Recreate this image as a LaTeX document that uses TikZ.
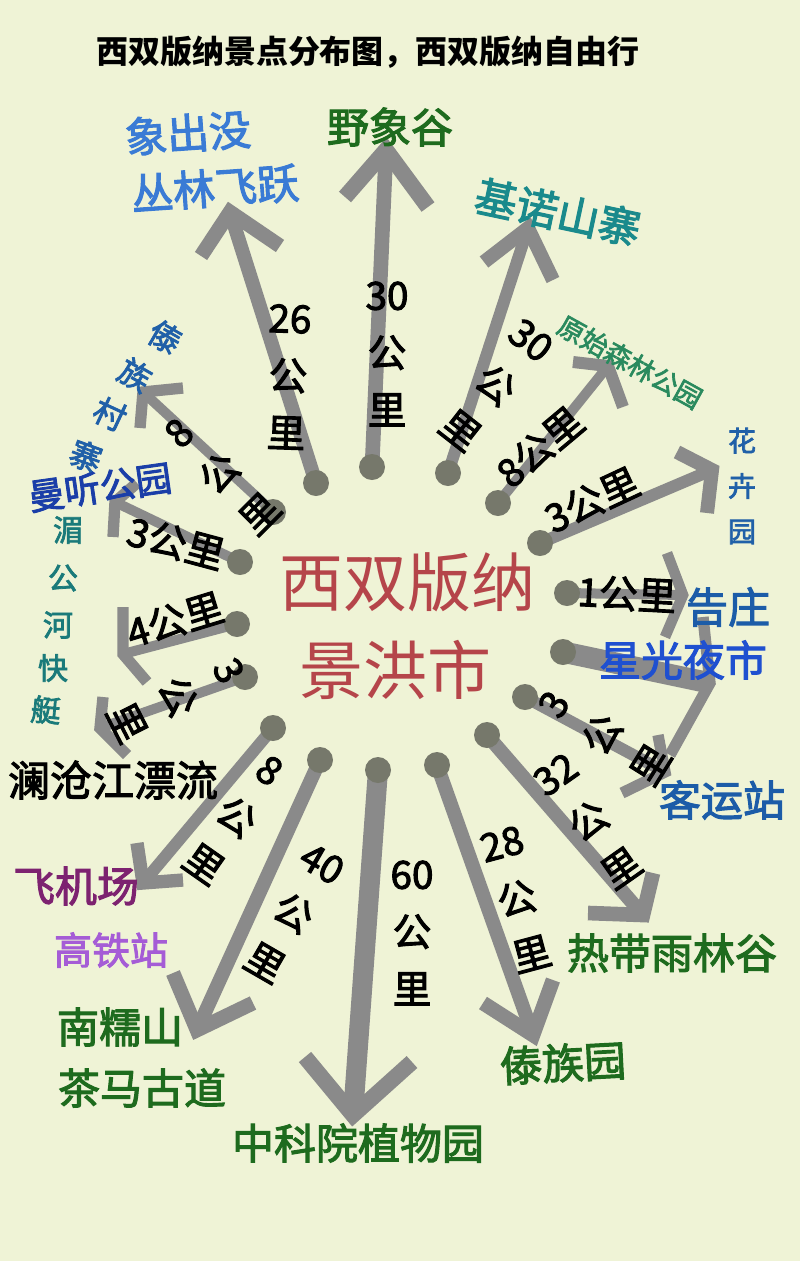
\documentclass[tikz,border=0pt]{standalone}
\usepackage{fontspec}
\newfontfamily\cjk{Noto Sans CJK SC}
\newfontfamily\cjkm{Noto Sans CJK SC}[RawFeature={embolden=2.5}]
\definecolor{bgc}{HTML}{EFF3D6}
\definecolor{ag}{HTML}{8A8A8A}
\definecolor{dotc}{HTML}{76786B}
\definecolor{cblue}{HTML}{3A7BD5}
\definecolor{cgreen}{HTML}{1E6B1E}
\definecolor{cteal}{HTML}{1A8A8C}
\definecolor{cforest}{HTML}{2A8A5E}
\definecolor{cblueb}{HTML}{2060A8}
\definecolor{cbluec}{HTML}{1C5CA8}
\definecolor{cblued}{HTML}{1F50D0}
\definecolor{cpurple}{HTML}{A55CD6}
\definecolor{cplum}{HTML}{7D2270}
\definecolor{cteal2}{HTML}{1A7A7A}
\definecolor{cnavy}{HTML}{1A3EA8}
\definecolor{cred}{HTML}{B5454A}
\begin{document}
\begin{tikzpicture}[x=0.75pt,y=-0.75pt,
  shaft/.style={draw=ag, line width=#1},
  chev/.style={draw=ag, line width=#1, line join=miter, miter limit=10},
  dot/.style={circle, fill=dotc, minimum size=19.5pt, inner sep=0pt},
  place/.style={font=\cjkm\fontsize{31.5}{36}\selectfont, inner sep=0pt},
  dist/.style={font=\cjkm\fontsize{29}{43}\selectfont, align=center, inner sep=0pt, text=black}]
\useasboundingbox (0,0) rectangle (800,1261);
\fill[bgc] (0,0) rectangle (800,1261);

% coordinates: dots, tips, arms
\coordinate (dA) at (316,483); \coordinate (tA) at (230,212); \coordinate (aA1) at (201,256); \coordinate (aA2) at (280,246);
\coordinate (dB) at (372,467); \coordinate (tB) at (386,150); \coordinate (aB1) at (345,197); \coordinate (aB2) at (428,207);
\coordinate (dC) at (448,473); \coordinate (tC) at (528,228); \coordinate (aC1) at (484,262); \coordinate (aC2) at (553,280);
\coordinate (dD) at (498,503); \coordinate (tD) at (608,366); \coordinate (aD1) at (573,362); \coordinate (aD2) at (623,407);
\coordinate (dE) at (540,543); \coordinate (tE) at (712,470); \coordinate (aE1) at (677,452); \coordinate (aE2) at (707,513);
\coordinate (dF) at (567,593); \coordinate (tF) at (683,595); \coordinate (aF1) at (667,553); \coordinate (aF2) at (665,637);
\coordinate (dG) at (563,652); \coordinate (tG) at (710,683); \coordinate (aG1) at (703,617); \coordinate (aG2) at (670,755);
\coordinate (dH) at (525,697); \coordinate (tH) at (665,772); \coordinate (aH1) at (658,735); \coordinate (aH2) at (622,793);
\coordinate (dI) at (487,735); \coordinate (tI) at (643,915); \coordinate (aI1) at (653,873); \coordinate (aI2) at (588,913);
\coordinate (dJ) at (437,765); \coordinate (tJ) at (533,1035); \coordinate (aJ1) at (483,1003); \coordinate (aJ2) at (553,980);
\coordinate (dK) at (378,770); \coordinate (tK) at (353,1115); \coordinate (aK1) at (305,1057); \coordinate (aK2) at (412,1062);
\coordinate (dL) at (320,760); \coordinate (tL) at (197,1030); \coordinate (aL1) at (173,973); \coordinate (aL2) at (253,1003);
\coordinate (dM) at (273,728); \coordinate (tM) at (143,883); \coordinate (aM1) at (137,843); \coordinate (aM2) at (183,880);
\coordinate (dN) at (245,677); \coordinate (tN) at (100,728); \coordinate (aN1) at (103,697); \coordinate (aN2) at (127,755);
\coordinate (dO) at (237,624); \coordinate (tO) at (123,654); \coordinate (aO1) at (123,607); \coordinate (aO2) at (147,682);
\coordinate (dP) at (240,562); \coordinate (tP) at (115,502); \coordinate (aP1) at (137,483); \coordinate (aP2) at (113,537);
\coordinate (dQ) at (273,512); \coordinate (tQ) at (143,392); \coordinate (aQ1) at (183,388); \coordinate (aQ2) at (140,428);

% shafts and chevrons
\draw[shaft=10.5pt] (dA) -- (tA); \draw[chev=11pt] (aA1) -- (tA) -- (aA2);
\draw[shaft=11pt] (dB) -- (tB); \draw[chev=12pt] (aB1) -- (tB) -- (aB2);
\draw[shaft=9pt] (dC) -- (tC); \draw[chev=10.5pt] (aC1) -- (tC) -- (aC2);
\draw[shaft=7.5pt] (dD) -- (tD); \draw[chev=9pt] (aD1) -- (tD) -- (aD2);
\draw[shaft=9pt] (dE) -- (tE); \draw[chev=10.5pt] (aE1) -- (tE) -- (aE2);
\draw[shaft=7.5pt] (dF) -- (tF); \draw[chev=8pt] (aF1) -- (tF) -- (aF2);
\draw[shaft=16pt] (dG) -- (tG); \draw[chev=8.5pt] (aG1) -- (tG) -- (aG2);
\draw[shaft=9pt] (dH) -- (tH); \draw[chev=8.5pt] (aH1) -- (tH) -- (aH2);
\draw[shaft=10.5pt] (dI) -- (tI); \draw[chev=11pt] (aI1) -- (tI) -- (aI2);
\draw[shaft=10.5pt] (dJ) -- (tJ); \draw[chev=11pt] (aJ1) -- (tJ) -- (aJ2);
\draw[shaft=15pt] (dK) -- (tK); \draw[chev=12pt] (aK1) -- (tK) -- (aK2);
\draw[shaft=10.5pt] (dL) -- (tL); \draw[chev=11pt] (aL1) -- (tL) -- (aL2);
\draw[shaft=9pt] (dM) -- (tM); \draw[chev=10pt] (aM1) -- (tM) -- (aM2);
\draw[shaft=7.5pt] (dN) -- (tN); \draw[chev=8.5pt] (aN1) -- (tN) -- (aN2);
\draw[shaft=7.5pt] (dO) -- (tO); \draw[chev=8.5pt] (aO1) -- (tO) -- (aO2);
\draw[shaft=7.5pt] (dP) -- (tP); \draw[chev=8.5pt] (aP1) -- (tP) -- (aP2);
\draw[shaft=7.5pt] (dQ) -- (tQ); \draw[chev=8.5pt] (aQ1) -- (tQ) -- (aQ2);

% dots
\foreach \k in {A,B,C,D,E,F,G,H,I,J,K,L,M,N,O,P,Q}{\node[dot] (n\k) at (d\k) {};}

% title
\node[font=\cjk\fontsize{24}{28}\selectfont\bfseries, inner sep=0pt] (title) at (368,52) {西双版纳景点分布图，西双版纳自由行};

% centre
\node[font=\cjk\fontsize{48}{56}\selectfont, text=cred, inner sep=0pt] (c1) at (407,582) {西双版纳};
\node[font=\cjk\fontsize{48}{56}\selectfont, text=cred, inner sep=0pt] (c2) at (395,670) {景洪市};

% distance labels
\node[dist, rotate=-2] (lA) at (288,377) {26\\公\\里};
\node[dist] (lB) at (387,354) {30\\公\\里};
\node[dist, rotate=-38] (lC) at (495,386) {30\\公\\里};
\node[dist, rotate=40] (lD) at (540,447) {8公里};
\node[dist, rotate=25] (lE) at (592,500) {3公里};
\node[dist, rotate=-3] (lF) at (627,594) {1公里};
\node[dist, rotate=58] (lH) at (603,735) {3\\公\\里};
\node[dist, rotate=35] (lI) at (589,822) {32\\公\\里};
\node[dist, rotate=15] (lJ) at (517,900) {28\\公\\里};
\node[dist] (lK) at (412,933) {60\\公\\里};
\node[dist, rotate=-30] (lL) at (293,914) {40\\公\\里};
\node[dist, rotate=-35] (lM) at (236,818) {8\\公\\里};
\node[dist, rotate=-63] (lN) at (177,697) {3\\公\\里};
\node[dist, rotate=17] (lO) at (175,620) {4公里};
\node[dist, rotate=-15] (lP) at (176,543) {3公里};
\node[dist, rotate=45] (lQ) at (220,474) {8\\公\\里};

% place labels
\node[place, text=cblue, rotate=4] (p1) at (188,133) {象出没};
\node[place, text=cblue, rotate=4] (p2) at (215,188) {丛林飞跃};
\node[place, text=cgreen] (p3) at (390,127) {野象谷};
\node[place, text=cteal, rotate=-12] (p4) at (558,212) {基诺山寨};
\node[font=\cjkm\fontsize{20}{24}\selectfont, inner sep=0pt, text=cforest, rotate=-29] (p5) at (630,362) {原始森林公园};
\node[font=\cjkm\fontsize{21}{34}\selectfont, align=center, inner sep=0pt, text=cblueb] (p6) at (742,486) {花\\卉\\园};
\node[place, text=cbluec] (p7) at (728,607) {告庄};
\node[place, text=cblued] (p8) at (683,660) {星光夜市};
\node[place, text=cbluec] (p9) at (722,800) {客运站};
\node[place, text=cgreen] (p10) at (672,953) {热带雨林谷};
\node[place, text=cgreen, rotate=3] (p11) at (563,1063) {傣族园};
\node[place, text=cgreen] (p12) at (358,1143) {中科院植物园};
\node[place, text=cgreen] (p13) at (120,1027) {南糯山};
\node[place, text=cgreen] (p14) at (142,1088) {茶马古道};
\node[font=\cjkm\fontsize{28.5}{34}\selectfont, inner sep=0pt, text=cpurple] (p15) at (111,950) {高铁站};
\node[place, text=cplum] (p16) at (76,886) {飞机场};
\node[place, text=black] (p17) at (113,780) {澜沧江漂流};
\node[font=\cjkm\fontsize{27}{32}\selectfont, inner sep=0pt, text=cnavy, rotate=8] (p18) at (100,487) {曼听公园};
% vertical curved labels
\begin{scope}[every node/.style={font=\cjkm\fontsize{22.5}{26}\selectfont, inner sep=0pt, text=cteal2}]
\node (m1) at (68,530) {湄};
\node (m2) at (63,578) {公};
\node (m3) at (58,625) {河};
\node (m4) at (53,668) {快};
\node[rotate=-5] (m5) at (46,710) {艇};
\end{scope}
\begin{scope}[every node/.style={font=\cjkm\fontsize{24}{28}\selectfont, inner sep=0pt, text=cblueb}]
\node[rotate=-30] (v1) at (165,337) {傣};
\node[rotate=-30] (v2) at (135,375) {族};
\node[rotate=-25] (v3) at (110,414) {村};
\node[rotate=-20] (v4) at (86,456) {寨};
\end{scope}
\end{tikzpicture}
\end{document}
